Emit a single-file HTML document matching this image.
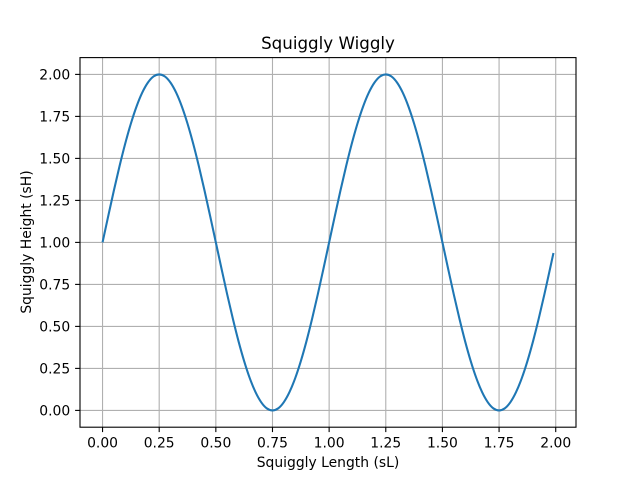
<!DOCTYPE html>
<html><head><meta charset="utf-8"><style>
body{margin:0;background:#fff;}
svg{display:block;font-family:"DejaVu Sans","Liberation Sans",sans-serif;}
</style></head><body>
<svg id="chart" width="640" height="480" xmlns="http://www.w3.org/2000/svg">
<text x="328" y="49" font-size="16.7" text-anchor="middle">Squiggly Wiggly</text>
<text x="328" y="467" font-size="13.9" text-anchor="middle">Squiggly Length (sL)</text>
<text x="0" y="0" font-size="13.9" text-anchor="middle" transform="translate(31,242) rotate(-90)">Squiggly Height (sH)</text>
<g id="grid"></g><g id="ticks"></g><g id="series"></g>
<rect x="80" y="57.6" width="496" height="369.6" fill="none" stroke="#000" stroke-width="1.1"/>
</svg>
<script>
const xTicks=[0,0.25,0.5,0.75,1,1.25,1.5,1.75,2];
const xTickLabels=["0.00","0.25","0.50","0.75","1.00","1.25","1.50","1.75","2.00"];
const yTicks=[0,0.25,0.5,0.75,1,1.25,1.5,1.75,2];
const yTickLabels=["0.00","0.25","0.50","0.75","1.00","1.25","1.50","1.75","2.00"];
const tValues=[0,0.025,0.05,0.075,0.1,0.125,0.15,0.175,0.2,0.225,0.25,0.275,0.3,0.325,0.35,0.375,0.4,0.425,0.45,0.475,0.5,0.525,0.55,0.575,0.6,0.625,0.65,0.675,0.7,0.725,0.75,0.775,0.8,0.825,0.85,0.875,0.9,0.925,0.95,0.975,1,1.025,1.05,1.075,1.1,1.125,1.15,1.175,1.2,1.225,1.25,1.275,1.3,1.325,1.35,1.375,1.4,1.425,1.45,1.475,1.5,1.525,1.55,1.575,1.6,1.625,1.65,1.675,1.7,1.725,1.75,1.775,1.8,1.825,1.85,1.875,1.9,1.925,1.95,1.975,1.99];
const sValues=[1,1.156,1.309,1.454,1.588,1.707,1.809,1.891,1.951,1.988,2,1.988,1.951,1.891,1.809,1.707,1.588,1.454,1.309,1.156,1,0.844,0.691,0.546,0.412,0.293,0.191,0.109,0.049,0.012,0,0.012,0.049,0.109,0.191,0.293,0.412,0.546,0.691,0.844,1,1.156,1.309,1.454,1.588,1.707,1.809,1.891,1.951,1.988,2,1.988,1.951,1.891,1.809,1.707,1.588,1.454,1.309,1.156,1,0.844,0.691,0.546,0.412,0.293,0.191,0.109,0.049,0.012,0,0.012,0.049,0.109,0.191,0.293,0.412,0.546,0.691,0.844,0.937];
const NS="http://www.w3.org/2000/svg";
const L=80,R=576,T=57.6,B=427.2;
const xmin=-0.0995,xmax=2.0895,ymin=-0.1,ymax=2.1;
const xs=v=>L+(v-xmin)/(xmax-xmin)*(R-L);
const ys=v=>B-(v-ymin)/(ymax-ymin)*(B-T);
function mk(tag,attrs,parent){const e=document.createElementNS(NS,tag);for(const k in attrs)e.setAttribute(k,attrs[k]);parent.appendChild(e);return e;}
const grid=document.getElementById('grid'),ticks=document.getElementById('ticks'),series=document.getElementById('series');
xTicks.forEach((v,i)=>{const x=xs(v);
 const g=mk('line',{x1:x,x2:x,y1:T,y2:B,stroke:'#b0b0b0','stroke-width':1.1},grid);
 
 
 const t=mk('line',{x1:x,x2:x,y1:B,y2:B+4.9,stroke:'#000','stroke-width':1.1},ticks);
 
 
 const l=mk('text',{x:x,y:B+20.5,'font-size':13.9,'text-anchor':'middle'},ticks);l.textContent=xTickLabels[i];
 
 
});
yTicks.forEach((v,i)=>{const y=ys(v);
 const g=mk('line',{x1:L,x2:R,y1:y,y2:y,stroke:'#b0b0b0','stroke-width':1.1},grid);
 
 
 const t=mk('line',{x1:L-4.9,x2:L,y1:y,y2:y,stroke:'#000','stroke-width':1.1},ticks);
 
 
 const l=mk('text',{x:L-9.8,y:y+5,'font-size':13.9,'text-anchor':'end'},ticks);l.textContent=yTickLabels[i];
 
 
});
const pts=tValues.map((t,i)=>[xs(t),ys(sValues[i])]);
let d='M'+pts[0][0]+','+pts[0][1];
for(let i=0;i<pts.length-1;i++){const p0=pts[Math.max(0,i-1)],p1=pts[i],p2=pts[i+1],p3=pts[Math.min(pts.length-1,i+2)];
 d+=' C'+(p1[0]+(p2[0]-p0[0])/6)+','+(p1[1]+(p2[1]-p0[1])/6)+' '+(p2[0]-(p3[0]-p1[0])/6)+','+(p2[1]-(p3[1]-p1[1])/6)+' '+p2[0]+','+p2[1];}
const path=mk('path',{d:d,fill:'none',stroke:'#1f77b4','stroke-width':2.08},series);


</script>
</body></html>
